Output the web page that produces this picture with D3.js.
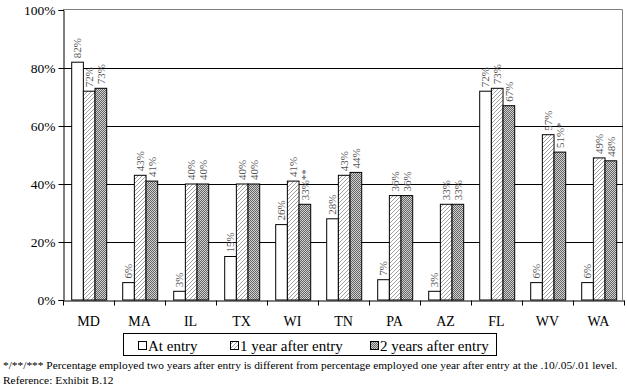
<!DOCTYPE html>
<html>
<head>
<meta charset="utf-8">
<script src="https://cdn.jsdelivr.net/npm/d3@7"></script>
<style>
  body { margin: 0; background: #fff; }
  text { font-family: "Liberation Serif", "Times New Roman", serif; }
</style>
</head>
<body>
<div id="chart"></div>
<script>
// states along the x axis
var states = ['MD', 'MA', 'IL', 'TX', 'WI', 'TN', 'PA', 'AZ', 'FL', 'WV', 'WA'];
var seriesNames = ['At entry', '1 year after entry', '2 years after entry'];

// percent employed
var atEntry = [82, 6, 3, 15, 26, 28, 7, 3, 72, 6, 6];
var oneYear = [72, 43, 40, 40, 41, 43, 36, 33, 73, 57, 49];
var twoYears = [73, 41, 40, 40, 33, 44, 36, 33, 67, 51, 48];
// significance marks on the 2 year labels
var twoYearMarks = ['', '', '', '', '**', '', '', '', '', '*', ''];

var yTicks = [0, 20, 40, 60, 80, 100];
var footnote = '*/**/*** Percentage employed two years after entry is different from percentage employed one year after entry at the .10/.05/.01 level.';
var reference = 'Reference:  Exhibit B.12';

(function() {
  var width = 627, height = 389;
  var svg = d3.select('#chart').append('svg')
    .attr('width', width)
    .attr('height', height);

  var defs = svg.append('defs');
  var hatch = defs.append('pattern')
    .attr('id', 'hatch')
    .attr('patternUnits', 'userSpaceOnUse')
    .attr('width', 4).attr('height', 4);
  hatch.append('rect').attr('width', 4).attr('height', 4).attr('fill', '#fff');
  hatch.append('path')
    .attr('d', 'M-1,1 l2,-2 M0,4 l4,-4 M3,5 l2,-2')
    .attr('stroke', '#a0a0a0').attr('stroke-width', 1);

  var checker = defs.append('pattern')
    .attr('id', 'checker')
    .attr('patternUnits', 'userSpaceOnUse')
    .attr('width', 2).attr('height', 2);
  checker.append('rect').attr('width', 2).attr('height', 2).attr('fill', '#d0d0d0');
  checker.append('rect').attr('width', 1).attr('height', 1).attr('fill', '#666');
  checker.append('rect').attr('x', 1).attr('y', 1).attr('width', 1).attr('height', 1).attr('fill', '#666');

  var fills = ['#fff', 'url(#hatch)', 'url(#checker)'];

  var pl = 63, pr = 624, pt = 10, pb = 300;

  var x0 = d3.scaleBand().domain(states).range([pl, pr]);
  var x1 = d3.scaleBand().domain(seriesNames).range([8.7, 43.7]);
  var y = d3.scaleLinear().domain([0, 100]).range([pb, pt]);

  // plot frame (grey top and right)
  svg.append('path')
    .attr('d', 'M' + pl + ',' + (pt - 0.5) + 'H' + (pr - 1.5) + 'V' + pb)
    .attr('fill', 'none').attr('stroke', '#808080').attr('stroke-width', 1);

  // gridlines
  svg.append('g')
    .selectAll('line')
    .data(yTicks.filter(function(d) { return d > 0 && d < 100; }))
    .enter().append('line')
    .attr('x1', pl).attr('x2', pr - 1)
    .attr('y1', function(d) { return Math.round(y(d)) + 0.5; })
    .attr('y2', function(d) { return Math.round(y(d)) + 0.5; })
    .attr('stroke', '#000');

  // bars
  var rows = states.map(function(s, i) {
    return [
      { state: s, series: seriesNames[0], v: atEntry[i], label: atEntry[i] + '%', k: 0 },
      { state: s, series: seriesNames[1], v: oneYear[i], label: oneYear[i] + '%', k: 1 },
      { state: s, series: seriesNames[2], v: twoYears[i], label: twoYears[i] + '%' + twoYearMarks[i], k: 2 }
    ];
  });

  var groups = svg.append('g')
    .selectAll('g')
    .data(rows)
    .enter().append('g')
    .attr('transform', function(d) { return 'translate(' + x0(d[0].state) + ',0)'; });

  groups.selectAll('rect')
    .data(function(d) { return d; })
    .enter().append('rect')
    .attr('x', function(d) { return x1(d.series); })
    .attr('width', x1.bandwidth())
    .attr('y', function(d) { return y(d.v); })
    .attr('height', function(d) { return pb - y(d.v); })
    .attr('fill', function(d) { return fills[d.k]; })
    .attr('stroke', '#000')
    .attr('stroke-width', 1);

  groups.selectAll('text')
    .data(function(d) { return d; })
    .enter().append('text')
    .attr('transform', function(d) {
      return 'translate(' + (x1(d.series) + x1.bandwidth() / 2) + ',' + (y(d.v) - 4) + ') rotate(-90)';
    })
    .attr('dy', '0.35em')
    .attr('font-size', 11)
    .attr('fill', '#555')
    .text(function(d) { return d.label; });

  // y axis
  var yAxis = d3.axisLeft(y)
    .tickValues(yTicks)
    .tickSize(5)
    .tickFormat(function(d) { return d + '%'; });
  var ya = svg.append('g')
    .attr('transform', 'translate(' + (pl + 0.5) + ',0)')
    .call(yAxis);
  ya.select('.domain').attr('stroke', '#000');
  ya.selectAll('text').attr('font-size', 13.5).attr('fill', '#000')
    .attr('font-family', '"Liberation Serif", serif').attr('x', -8);

  // x axis
  var xAxis = d3.axisBottom(x0).tickSize(0).tickSizeOuter(0);
  var xa = svg.append('g')
    .attr('transform', 'translate(0,' + (pb + 0.5) + ')')
    .call(xAxis);
  xa.select('.domain').attr('stroke', '#000');
  xa.selectAll('text').attr('font-size', 14).attr('fill', '#000')
    .attr('font-family', '"Liberation Serif", serif').attr('y', 16);
  // category separator ticks
  xa.selectAll('.sep')
    .data(states.concat(['end']))
    .enter().append('line')
    .attr('class', 'sep')
    .attr('x1', function(d, i) { return Math.round(pl + i * x0.step()) + 0.5; })
    .attr('x2', function(d, i) { return Math.round(pl + i * x0.step()) + 0.5; })
    .attr('y1', 0).attr('y2', 5)
    .attr('stroke', '#000');

  // legend
  var legend = svg.append('g');
  legend.append('rect')
    .attr('x', 123.5).attr('y', 333.5)
    .attr('width', 373).attr('height', 22)
    .attr('fill', '#fff').attr('stroke', '#000');
  var legendX = [138, 230, 370];
  var items = legend.selectAll('g.item')
    .data(seriesNames)
    .enter().append('g')
    .attr('class', 'item')
    .attr('transform', function(d, i) { return 'translate(' + legendX[i] + ',341)'; });
  items.append('rect')
    .attr('x', 0.5).attr('y', 0.5)
    .attr('width', 8).attr('height', 8)
    .attr('fill', function(d, i) { return fills[i]; })
    .attr('stroke', '#000');
  items.append('text')
    .attr('x', 10).attr('y', 10)
    .attr('font-size', 15)
    .text(function(d) { return d; });

  // notes
  svg.append('text')
    .attr('x', 3).attr('y', 369)
    .attr('font-size', 11.4)
    .text(footnote);
  svg.append('text')
    .attr('x', 3).attr('y', 384)
    .attr('font-size', 11.4)
    .text(reference);
})();
</script>
</body>
</html>
